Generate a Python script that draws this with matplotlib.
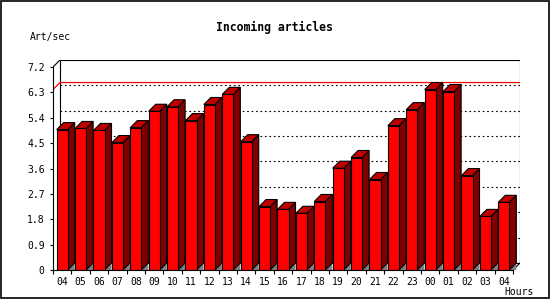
import matplotlib
matplotlib.use('Agg')
import matplotlib.pyplot as plt
from matplotlib.patches import Polygon, Rectangle
import numpy as np

# Данные: статьи в секунду по часам
hours = ['04', '05', '06', '07', '08', '09', '10', '11', '12', '13', '14', '15', '16',
         '17', '18', '19', '20', '21', '22', '23', '00', '01', '02', '03', '04']
rates = [4.98, 5.02, 4.95, 4.52, 5.05, 5.63, 5.79, 5.30, 5.87, 6.23, 4.55, 2.25, 2.15,
         2.01, 2.43, 3.61, 3.99, 3.21, 5.12, 5.69, 6.40, 6.33, 3.35, 1.90, 2.40]
y_ticks = [0, 0.9, 1.8, 2.7, 3.6, 4.5, 5.4, 6.3, 7.2]
y_labels = ['0', '0.9', '1.8', '2.7', '3.6', '4.5', '5.4', '6.3', '7.2']

front = '#ff0000'
side = '#800000'
top = '#c00000'
mono = 'DejaVu Sans Mono'

# глубина 3D-эффекта в единицах данных
dx = 0.38
dy = 0.25
w = 0.6
n = len(hours)
x = np.arange(n)
ymax = 7.2

fig = plt.figure(figsize=(5.5, 3), dpi=100)
ax = fig.add_axes([53 / 550, 30 / 300, 467 / 550, 210 / 300])
ax.set_xlim(-0.5, n - 0.5 + dx)
ax.set_ylim(0, ymax + dy)

# задняя стенка и сетка
ax.add_patch(Rectangle((-0.5 + dx, dy), n, ymax, fill=False, ec='black', lw=0.8, zorder=1))
for v in y_ticks[1:-1]:
    ax.plot([-0.5 + dx, n - 0.5 + dx], [v + dy, v + dy], color='black', lw=0.8,
            dashes=(1.5, 2.5), zorder=1)
ax.plot([-0.5, -0.5 + dx], [ymax, ymax + dy], color='black', lw=0.8, zorder=1)
ax.plot([n - 0.5, n - 0.5 + dx], [0, dy], color='black', lw=0.8, zorder=1)

# линия максимума
m = max(rates)
ax.plot([-0.5, -0.5 + dx, n - 0.5 + dx], [m, m + dy, m + dy], color='red', lw=0.9, zorder=2)

# столбики
ax.bar(x, rates, width=w, color=front, edgecolor='black', linewidth=0.8, zorder=4)
for xi, v in zip(x, rates):
    r = xi + w / 2
    l = xi - w / 2
    ax.add_patch(Polygon([(r, 0), (r + dx, dy), (r + dx, 0)], closed=True,
                         fc='#808080', ec='none', zorder=3))
    ax.add_patch(Polygon([(r, 0), (r + dx, dy), (r + dx, v + dy), (r, v)], closed=True,
                         fc=side, ec='black', lw=0.8, zorder=3))
    ax.add_patch(Polygon([(l, v), (l + dx, v + dy), (r + dx, v + dy), (r, v)], closed=True,
                         fc=top, ec='black', lw=0.8, zorder=3))

# оси
for s in ['top', 'right']:
    ax.spines[s].set_visible(False)
ax.spines['left'].set_bounds(0, ymax)
ax.spines['bottom'].set_bounds(-0.5, n - 0.5)
ax.spines['left'].set_linewidth(0.8)
ax.spines['bottom'].set_linewidth(0.8)
ax.spines['left'].set_zorder(5)
ax.spines['bottom'].set_zorder(5)

ax.set_yticks(y_ticks)
ax.set_yticklabels(y_labels, family=mono, fontsize=7)
ax.tick_params(axis='y', direction='out', length=2.5, width=0.8, pad=3.5)
ax.set_xticks(x)
ax.set_xticklabels(hours, family=mono, fontsize=7)
ax.set_xticks(np.arange(n + 1) - 0.5, minor=True)
ax.tick_params(axis='x', which='major', length=0, pad=5)
ax.tick_params(axis='x', which='minor', direction='out', length=3, width=0.8)

fig.text(274 / 550, 1 - 27 / 300, 'Incoming articles', family=mono, fontsize=8.3,
         fontweight='bold', ha='center', va='center')
fig.text(30 / 550, 1 - 37 / 300, 'Art/sec', family=mono, fontsize=7, ha='left', va='center')
fig.text(534 / 550, 1 - 292 / 300, 'Hours', family=mono, fontsize=7, ha='right', va='center')

# рамка вокруг картинки
fig.add_artist(Rectangle((0.5 / 550, 2 / 300), 548.5 / 550, 297.5 / 300, fill=False,
                         ec='black', lw=1.2, transform=fig.transFigure))

fig.savefig('out.png', dpi=100)
